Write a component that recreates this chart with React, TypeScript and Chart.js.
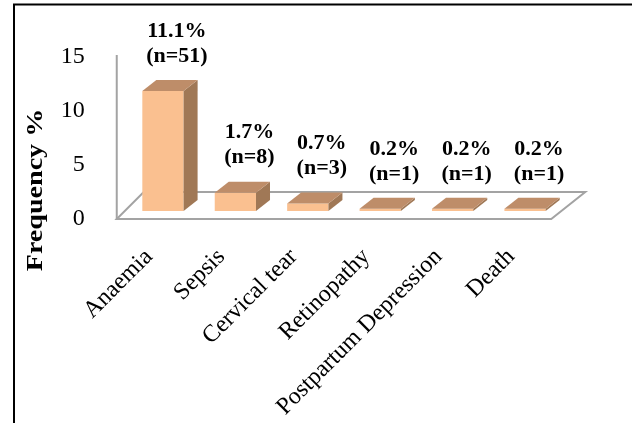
import React, { useEffect, useRef } from "react";
import { Chart, registerables } from "chart.js";

Chart.register(...registerables);

const categories = ["Anaemia", "Sepsis", "Cervical tear", "Retinopathy", "Postpartum Depression", "Death"];
const percentValues = [11.1, 1.7, 0.7, 0.2, 0.2, 0.2];
const counts = [51, 8, 3, 1, 1, 1];
const yMin = 0;
const yMax = 15;
const yStep = 5;
const yTitle = "Frequency %";

const FONT = '"Liberation Serif", "Times New Roman", serif';
const DEPTH_X = 14;
const DEPTH_Y = -11;
const LIFT = 8;
const FRONT = "#FAC090";
const TOP = "#BE8D69";
const SIDE = "#A07856";
const AXIS_GRAY = "#A3A3A3";

const threeDPlugin = {
  id: "threeD",
  beforeDatasetsDraw(chart: any) {
    const { ctx, chartArea } = chart;
    const { left, right, top, bottom } = chartArea;
    ctx.save();
    ctx.strokeStyle = AXIS_GRAY;
    ctx.lineWidth = 2;
    ctx.beginPath();
    ctx.moveTo(left - 10, top - 2);
    ctx.lineTo(left - 10, bottom);
    ctx.stroke();
    ctx.beginPath();
    ctx.moveTo(left - 10, bottom);
    ctx.lineTo(right - 10, bottom);
    ctx.lineTo(right + 24, bottom - 27);
    ctx.lineTo(left + 17, bottom - 27);
    ctx.closePath();
    ctx.stroke();
    ctx.restore();
    ctx.save();
    ctx.translate(0, -LIFT);
  },
  afterDatasetsDraw(chart: any) {
    const { ctx } = chart;
    ctx.restore();
    const meta = chart.getDatasetMeta(0);
    ctx.save();
    meta.data.forEach((el: any, i: number) => {
      const { x, y, base, width } = el.getProps(["x", "y", "base", "width"], true);
      const l = x - width / 2;
      const r = x + width / 2;
      const t = y - LIFT;
      const b = base - LIFT;
      ctx.fillStyle = SIDE;
      ctx.beginPath();
      ctx.moveTo(r, t);
      ctx.lineTo(r + DEPTH_X, t + DEPTH_Y);
      ctx.lineTo(r + DEPTH_X, b + DEPTH_Y);
      ctx.lineTo(r, b);
      ctx.closePath();
      ctx.fill();
      ctx.fillStyle = TOP;
      ctx.beginPath();
      ctx.moveTo(l, t);
      ctx.lineTo(l + DEPTH_X, t + DEPTH_Y);
      ctx.lineTo(r + DEPTH_X, t + DEPTH_Y);
      ctx.lineTo(r, t);
      ctx.closePath();
      ctx.fill();

      ctx.fillStyle = "#000";
      ctx.font = `bold 22px ${FONT}`;
      ctx.textAlign = "center";
      ctx.textBaseline = "middle";
      const cx = x + DEPTH_X;
      const y2 = t + DEPTH_Y - 24;
      ctx.fillText(`(n=${counts[i]})`, cx, y2);
      ctx.fillText(`${percentValues[i]}%`, cx, y2 - 25);
    });
    ctx.restore();
  },
  afterDraw(chart: any) {
    const { ctx } = chart;
    ctx.save();
    ctx.translate(42, 190);
    ctx.rotate(-Math.PI / 2);
    ctx.scale(1.17, 1);
    ctx.font = `bold 24px ${FONT}`;
    ctx.fillStyle = "#000";
    ctx.textAlign = "center";
    ctx.textBaseline = "alphabetic";
    ctx.fillText(yTitle, 0, 0);
    ctx.restore();
    ctx.save();
    ctx.strokeStyle = "#000";
    ctx.lineWidth = 2;
    ctx.beginPath();
    ctx.moveTo(14, 430);
    ctx.lineTo(14, 4.5);
    ctx.lineTo(640, 4.5);
    ctx.stroke();
    ctx.restore();
  },
};

export default function App() {
  const ref = useRef<HTMLCanvasElement | null>(null);
  useEffect(() => {
    if (!ref.current) return;
    const chart = new Chart(ref.current, {
      type: "bar",
      data: {
        labels: categories,
        datasets: [
          {
            data: percentValues,
            backgroundColor: FRONT,
            borderWidth: 0,
            barPercentage: 0.57,
            categoryPercentage: 1,
          },
        ],
      },
      options: {
        responsive: false,
        animation: false,
        devicePixelRatio: 1,
        layout: { padding: { top: 57, right: 70.75, left: 0, bottom: 0 } },
        plugins: { legend: { display: false }, tooltip: { enabled: false } },
        scales: {
          x: {
            grid: { display: false },
            border: { display: false },
            ticks: {
              autoSkip: false,
              minRotation: 45,
              maxRotation: 45,
              padding: 16,
              labelOffset: -14,
              color: "#000",
              font: { family: FONT, size: 24 },
            },
            afterFit: (scale: any) => {
              scale.height = 204;
            },
          },
          y: {
            min: yMin,
            max: yMax,
            grid: { display: false },
            border: { display: false },
            ticks: {
              stepSize: yStep,
              padding: 34,
              color: "#000",
              font: { family: FONT, size: 24 },
            },
            afterFit: (scale: any) => {
              scale.width = 126.75;
            },
          },
        },
      },
      plugins: [threeDPlugin],
    });
    return () => chart.destroy();
  }, []);
  return (
    <div style={{ position: "fixed", left: 0, top: 0, width: 632, height: 423, background: "#fff" }}>
      <canvas ref={ref} width={632} height={423} style={{ width: 632, height: 423, display: "block" }} />
    </div>
  );
}
